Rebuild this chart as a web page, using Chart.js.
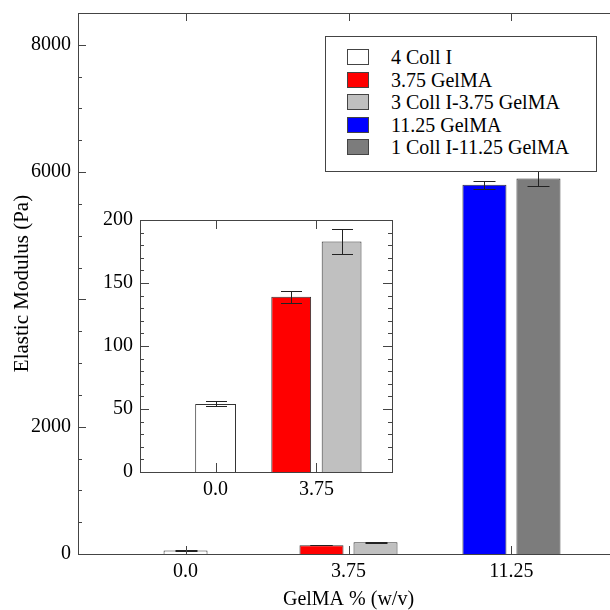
<!DOCTYPE html>
<html>
<head>
<meta charset="utf-8">
<script src="https://cdn.jsdelivr.net/npm/chart.js@4.4.0/dist/chart.umd.min.js"></script>
<style>
  html, body { margin: 0; padding: 0; background: #fff; overflow: hidden; }
  #wrap { position: relative; width: 610px; height: 610px; overflow: hidden; }
  #mainChart { position: absolute; left: 0; top: 0; }
  #insetChart { position: absolute; left: 80px; top: 200px; }
  #legend {
    position: absolute; left: 325px; top: 36px; width: 272px; height: 136px;
    box-sizing: border-box; border: 1px solid #444; background: #fff;
    padding-top: 9px; font-family: 'Liberation Serif', 'Times New Roman', serif;
    font-size: 20px; color: #000;
  }
  .row { position: relative; height: 22.6px; line-height: 22.6px; padding-left: 65px; white-space: nowrap; }
  .sw { position: absolute; left: 21px; top: 3px; width: 22px; height: 16px; box-sizing: border-box; border: 1px solid #444; }
</style>
</head>
<body>
<div id="wrap">
  <canvas id="mainChart" width="640" height="610"></canvas>
  <canvas id="insetChart" width="330" height="310"></canvas>
  <div id="legend"></div>
</div>
<script>
// categorias y series
const categories = ['0.0', '3.75', '11.25'];
const insetCategories = ['0.0', '3.75'];
const seriesNames = ['4 Coll I', '3.75 GelMA', '3 Coll I-3.75 GelMA', '11.25 GelMA', '1 Coll I-11.25 GelMA'];
const seriesColors = ['#ffffff', '#ff0000', '#c0c0c0', '#0000ff', '#7c7c7c'];

const coll4 = [54, null, null];
const gel375 = [null, 139, null];
const coll3gel375 = [null, 183, null];
const gel1125 = [null, null, 5800];
const coll1gel1125 = [null, null, 5900];

const coll4Err = [2, null, null];
const gel375Err = [null, 5, null];
const coll3gel375Err = [null, 10, null];
const gel1125Err = [null, null, 60];
const coll1gel1125Err = [null, null, 115];

const mainYTicks = [0, 2000, 4000, 6000, 8000];
const mainYLabels = ['0', '2000', '', '6000', '8000'];
const insetYTicks = [0, 50, 100, 150, 200];
const insetYLabels = ['0', '50', '100', '150', '200'];

const seriesValues = [coll4, gel375, coll3gel375, gel1125, coll1gel1125];
const seriesErrors = [coll4Err, gel375Err, coll3gel375Err, gel1125Err, coll1gel1125Err];

const FONT = "'Liberation Serif', 'Times New Roman', serif";

// marco con ticks hacia dentro
const frameTicks = {
    id: 'frameTicks',
    afterDraw(chart, args, o) {
        const { ctx, chartArea: a, scales: { x, y } } = chart;
        ctx.save();
        ctx.strokeStyle = '#444';
        ctx.lineWidth = 1;
        ctx.beginPath();
        for (let v = y.min + o.yMinor; v < y.max; v += o.yMinor) {
            const py = Math.round(y.getPixelForValue(v)) + 0.5;
            const len = (v % o.yMajor === 0) ? o.majorLen : o.minorLen;
            ctx.moveTo(a.left, py); ctx.lineTo(a.left + len, py);
            ctx.moveTo(a.right, py); ctx.lineTo(a.right - len, py);
        }
        x.ticks.forEach(t => {
            const px = Math.round(x.getPixelForValue(t.value)) + 0.5;
            ctx.moveTo(px, a.bottom); ctx.lineTo(px, a.bottom - o.majorLen);
            ctx.moveTo(px, a.top); ctx.lineTo(px, a.top + o.majorLen);
        });
        ctx.stroke();
        ctx.strokeRect(Math.round(a.left) + 0.5, Math.round(a.top) + 0.5,
            Math.round(a.right - a.left), Math.round(a.bottom - a.top));
        ctx.restore();
    }
};

// barras de error
const errorBars = {
    id: 'errorBars',
    afterDatasetsDraw(chart, args, o) {
        const { ctx, scales: { y } } = chart;
        ctx.save();
        ctx.strokeStyle = '#222';
        ctx.lineWidth = 1;
        chart.data.datasets.forEach((ds, i) => {
            const meta = chart.getDatasetMeta(i);
            meta.data.forEach((bar, j) => {
                const v = ds.data[j].y, e = ds.errors[j];
                if (v == null || e == null) return;
                const px = Math.round(bar.x) + 0.5;
                const top = Math.round(y.getPixelForValue(v + e)) + 0.5;
                const bot = Math.round(y.getPixelForValue(v - e)) + 0.5;
                ctx.beginPath();
                ctx.moveTo(px, top); ctx.lineTo(px, bot);
                ctx.moveTo(px - o.cap / 2, top); ctx.lineTo(px + o.cap / 2, top);
                ctx.moveTo(px - o.cap / 2, bot); ctx.lineTo(px + o.cap / 2, bot);
                ctx.stroke();
            });
        });
        ctx.restore();
    }
};

function makeDatasets(n, soloPct, pairPct, catPct) {
    return seriesValues.map((vals, i) => ({
        label: seriesNames[i],
        data: vals.slice(0, n).map((v, j) => ({ x: j, y: v })),
        errors: seriesErrors[i].slice(0, n),
        backgroundColor: seriesColors[i],
        borderColor: '#333',
        borderWidth: 1,
        skipNull: true,
        categoryPercentage: catPct,
        barPercentage: i === 0 ? soloPct : pairPct
    }));
}

// lineHeight bajo en el eje y para que no empuje el area del grafico
function tickFont(lh) {
    return { family: FONT, size: 20, lineHeight: lh };
}

// grafico principal
new Chart(document.getElementById('mainChart').getContext('2d'), {
    type: 'bar',
    data: { datasets: makeDatasets(3, 0.407, 0.815, 0.663) },
    plugins: [errorBars, frameTicks],
    options: {
        responsive: false,
        animation: false,
        layout: { padding: { top: 13, right: 21, left: 0, bottom: 0 } },
        plugins: {
            legend: { display: false },
            tooltip: { enabled: false },
            errorBars: { cap: 22 },
            frameTicks: { yMajor: 2000, yMinor: 500, majorLen: 8, minorLen: 4 }
        },
        scales: {
            x: {
                type: 'linear', min: -0.66, max: 2.66, bounds: 'data', offset: false,
                afterBuildTicks: s => { s.ticks = categories.map((c, i) => ({ value: i })); },
                afterFit: s => { s.height = 56; },
                grid: { display: false, drawTicks: false, offset: false },
                border: { display: false },
                ticks: { callback: v => categories[v], font: tickFont(1.2), color: '#000', padding: 6, maxRotation: 0, autoSkip: false },
                title: { display: true, text: 'GelMA % (w/v)', color: '#000', font: { family: FONT, size: 20, lineHeight: 1 }, padding: 0 }
            },
            y: {
                min: 0, max: 8500, bounds: 'data',
                afterBuildTicks: s => { s.ticks = mainYTicks.map(v => ({ value: v })); },
                afterFit: s => { s.width = 78; },
                grid: { display: false, drawTicks: false },
                border: { display: false },
                ticks: { callback: (v, i) => mainYLabels[i], font: tickFont(0.5), color: '#000', padding: 7 },
                title: { display: true, text: 'Elastic Modulus (Pa)', color: '#000', font: { family: FONT, size: 21, lineHeight: 1 }, padding: { top: 12, bottom: 0 } }
            }
        }
    }
});

// grafico insertado
new Chart(document.getElementById('insetChart').getContext('2d'), {
    type: 'bar',
    data: { datasets: makeDatasets(2, 0.405, 0.79, 1.0) },
    plugins: [errorBars, frameTicks],
    options: {
        responsive: false,
        animation: false,
        layout: { padding: { top: 20, right: 18, left: 0, bottom: 0 } },
        plugins: {
            legend: { display: false },
            tooltip: { enabled: false },
            errorBars: { cap: 21 },
            frameTicks: { yMajor: 50, yMinor: 10, majorLen: 9, minorLen: 4 }
        },
        scales: {
            x: {
                type: 'linear', min: -0.75, max: 1.75, bounds: 'data', offset: false,
                afterBuildTicks: s => { s.ticks = insetCategories.map((c, i) => ({ value: i })); },
                afterFit: s => { s.height = 38; },
                grid: { display: false, drawTicks: false, offset: false },
                border: { display: false },
                ticks: { callback: v => insetCategories[v], font: tickFont(1.2), color: '#000', padding: 6, maxRotation: 0, autoSkip: false }
            },
            y: {
                min: 0, max: 200, bounds: 'data',
                afterBuildTicks: s => { s.ticks = insetYTicks.map(v => ({ value: v })); },
                afterFit: s => { s.width = 60; },
                grid: { display: false, drawTicks: false },
                border: { display: false },
                ticks: { callback: (v, i) => insetYLabels[i], font: tickFont(0.5), color: '#000', padding: 7 }
            }
        }
    }
});

// leyenda
const legend = document.getElementById('legend');
seriesNames.forEach((name, i) => {
    const row = document.createElement('div');
    row.className = 'row';
    const sw = document.createElement('span');
    sw.className = 'sw';
    sw.style.background = seriesColors[i];
    row.appendChild(sw);
    row.appendChild(document.createTextNode(name));
    legend.appendChild(row);
});
</script>
</body>
</html>
